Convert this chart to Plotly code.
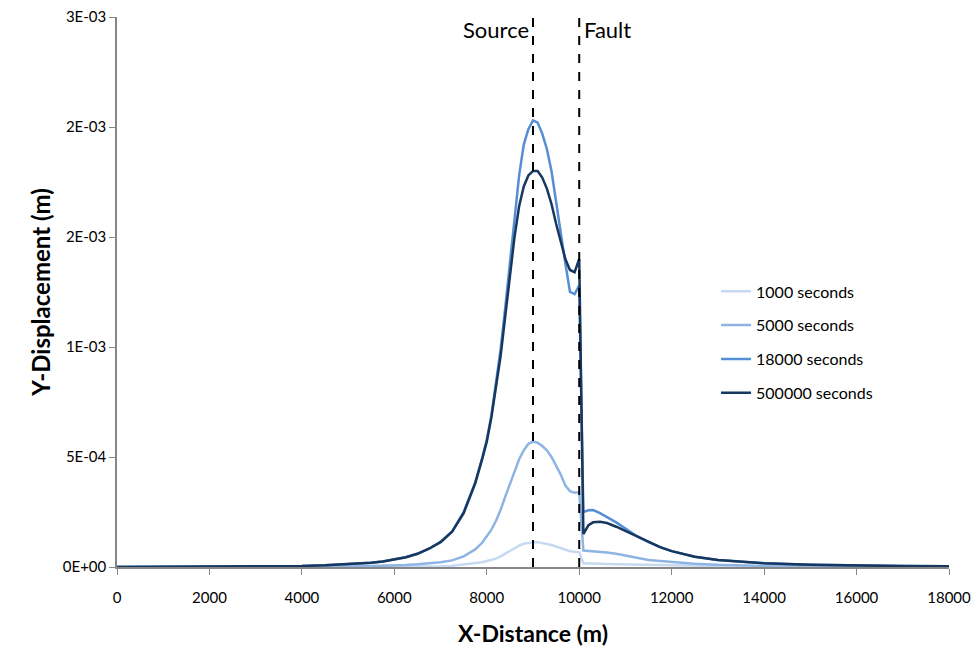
import plotly.graph_objects as go

# X distance (m)
x = [0, 1000, 2000, 3000, 4000, 4500, 5000, 5500, 5750, 6000, 6250, 6500, 6750, 7000,
     7250, 7500, 7750, 7900, 8000, 8100, 8200, 8300, 8400, 8500, 8600, 8700, 8800, 8900,
     9000, 9100, 9200, 9300, 9400, 9500, 9600, 9700, 9800, 9900,
     10000,
     10090, 10200, 10300, 10450, 10600, 10800,
     11000, 11250, 11500, 11750,
     12000, 12500, 13000, 13500, 14000,
     15000, 16000, 17000, 18000]

y_1000 = [0, 0, 0, 0, 0, 0, 0, 0, 0, 0, 0, 0.000001, 0.000002, 0.000003,
          0.000006, 0.000011, 0.000017, 0.000022, 0.000027, 0.000032, 0.000038, 0.000048,
          0.00006, 0.000072, 0.000086, 0.000097, 0.000106, 0.000111,
          0.000113, 0.000113, 0.00011, 0.000105, 0.0001, 0.000093, 0.000085, 0.000078,
          0.000072, 0.000069,
          0.000067,
          0.000017, 0.000017, 0.000016, 0.000015, 0.000014, 0.000013,
          0.000012, 0.00001, 0.000009, 0.000008,
          0.000007, 0.000005, 0.000004, 0.000003, 0.000002,
          0.000001, 0.000001, 0, 0]

y_5000 = [0, 0, 0, 0, 0.000001, 0.000001, 0.000002, 0.000004, 0.000005, 0.000007, 0.000009,
          0.000012, 0.000016, 0.000022,
          0.00003, 0.000048, 0.00008, 0.00011, 0.00014, 0.00017, 0.00021, 0.00026, 0.00032,
          0.00038, 0.00044, 0.00049, 0.00053, 0.00056,
          0.00057, 0.000565, 0.00055, 0.00053, 0.0005, 0.00046, 0.00042, 0.00037, 0.000345,
          0.000338,
          0.00034,
          0.000075, 0.000073, 0.000072, 0.00007, 0.000066, 0.00006,
          0.000052, 0.00004, 0.000032, 0.000027,
          0.000022, 0.000015, 0.00001, 0.000007, 0.000005,
          0.000003, 0.000002, 0.000001, 0.000001]

y_18000 = [0, 0.0000005, 0.000001, 0.000002, 0.000005, 0.000008, 0.000012, 0.000019, 0.000025,
           0.000033, 0.000044, 0.00006, 0.000083, 0.000114,
           0.000162, 0.00025, 0.000385, 0.000495, 0.000578, 0.00069, 0.00083, 0.00099, 0.00118,
           0.00139, 0.0016, 0.00178, 0.00192, 0.00199,
           0.00203, 0.00202, 0.00197, 0.0019, 0.0018, 0.00166, 0.0015, 0.00138, 0.00125,
           0.00124,
           0.00128,
           0.00025, 0.000258, 0.000259, 0.000245, 0.000228, 0.000203,
           0.000175, 0.00014, 0.000113, 0.00009,
           0.000072, 0.000047, 0.000032, 0.000023, 0.000017,
           0.00001, 0.000006, 0.000004, 0.000003]

y_500000 = [0, 0.0000005, 0.000001, 0.000002, 0.000005, 0.000008, 0.000012, 0.000019, 0.000025,
            0.000033, 0.000044, 0.00006, 0.000083, 0.000113,
            0.00016, 0.000245, 0.00038, 0.00049, 0.00057, 0.00068, 0.00081, 0.00096, 0.00114,
            0.00132, 0.0015, 0.00164, 0.00173, 0.00178,
            0.0018, 0.0018, 0.00177, 0.00172, 0.00165, 0.00156, 0.00148, 0.0014, 0.00135,
            0.00134,
            0.0014,
            0.00015, 0.00019, 0.000203, 0.000206, 0.0002, 0.000183,
            0.000163, 0.000137, 0.000112, 0.00009,
            0.000072, 0.000047, 0.000032, 0.000023, 0.000017,
            0.00001, 0.000006, 0.000004, 0.000003]

series_names = ["1000 seconds", "5000 seconds", "18000 seconds", "500000 seconds"]
series_values = [y_1000, y_5000, y_18000, y_500000]
series_colors = ["#C6D9F1", "#8EB4E3", "#558ED5", "#17375E"]

y_tickvals = [0, 0.0005, 0.001, 0.0015, 0.002, 0.0025]
y_ticktext = ["0E+00", "5E-04", "1E-03", "2E-03", "2E-03", "3E-03"]
x_tickvals = [0, 2000, 4000, 6000, 8000, 10000, 12000, 14000, 16000, 18000]
x_ticktext = ["0", "2000", "4000", "6000", "8000", "10000", "12000", "14000", "16000", "18000"]

marker_x = [9000, 10000]
marker_labels = ["Source", "Fault"]

FONT = "Lato, 'Open Sans', sans-serif"

fig = go.Figure()
for name, vals, col in zip(series_names, series_values, series_colors):
    fig.add_trace(go.Scatter(x=x, y=vals, mode="lines", name=name, legendgroup=name,
                             line=dict(color=col, width=2.5)))

for xv in marker_x:
    fig.add_shape(type="line", xref="x", yref="paper", x0=xv, x1=xv, y0=0, y1=1,
                  line=dict(color="black", width=2, dash="dash"))
fig.add_annotation(x=marker_x[0], y=1, xref="x", yref="paper", text=marker_labels[0],
                   showarrow=False, xanchor="right", yanchor="top", xshift=-2, yshift=3,
                   font=dict(family=FONT, size=22, color="black"))
fig.add_annotation(x=marker_x[1], y=1, xref="x", yref="paper", text=marker_labels[1],
                   showarrow=False, xanchor="left", yanchor="top", xshift=3, yshift=3,
                   font=dict(family=FONT, size=22, color="black"))

fig.update_layout(
    width=974, height=648,
    margin=dict(l=117, r=25, t=17, b=81),
    paper_bgcolor="white", plot_bgcolor="white",
    font=dict(family=FONT, size=15, color="black"),
    showlegend=True,
    legend=dict(x=0.72, y=0.532, xanchor="left", yanchor="top",
                font=dict(family=FONT, size=16, color="black"),
                tracegroupgap=10, itemwidth=30, bgcolor="rgba(0,0,0,0)"),
    xaxis=dict(range=[0, 18000], tickvals=x_tickvals, ticktext=x_ticktext,
               showgrid=False, zeroline=False, automargin=False,
               showline=True, linecolor="#868686", linewidth=1.5,
               ticks="outside", ticklen=6, tickcolor="#868686",
               ticklabelstandoff=10,
               tickfont=dict(family=FONT, size=15, color="black"),
               title=dict(text="<b>X-Distance (m)</b>", font=dict(family=FONT, size=23),
                          standoff=21)),
    yaxis=dict(range=[0, 0.0025], tickvals=y_tickvals, ticktext=y_ticktext,
               showgrid=False, zeroline=False, automargin=False,
               showline=True, linecolor="#868686", linewidth=1.5,
               ticks="outside", ticklen=6, tickcolor="#868686",
               tickfont=dict(family=FONT, size=15, color="black"),
               title=dict(text="<b>Y-Displacement (m)</b>", font=dict(family=FONT, size=24),
                          standoff=5)),
)

fig.write_html("out.html")
